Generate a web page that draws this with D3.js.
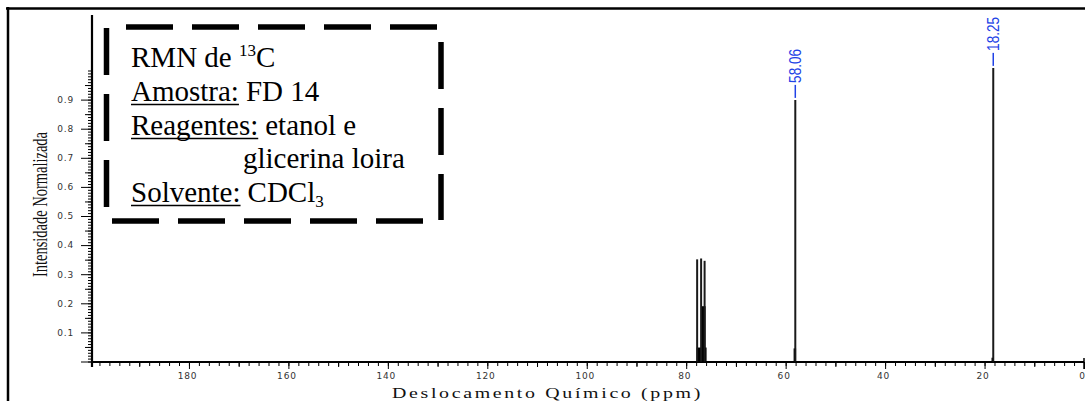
<!DOCTYPE html>
<html>
<head>
<meta charset="utf-8">
<script src="https://cdn.jsdelivr.net/npm/d3@7"></script>
<style>
  html, body { margin: 0; background: #fff; }
  svg { display: block; }
</style>
</head>
<body>
<svg id="chart" width="1085" height="401"></svg>
<script>
/* Espectro RMN 13C (FD 14) — sticks desenhados com escalas d3 */

// ----- dados -----
var peakPpm    = [77.8, 77.0, 76.3, 58.06, 18.25];
var peakHeight = [0.351, 0.354, 0.346, 0.899, 1.009];

// alargamento na base dos picos (regiões preenchidas)
var baseFrom   = [77.9, 76.9, 58.4, 18.6];
var baseTo     = [75.9, 76.1, 57.9, 18.2];
var baseHeight = [0.048, 0.19, 0.045, 0.013];

var peakLabels = ['58.06', '18.25'];
var labelPpm   = [58.06, 18.25];

var xTickLabels = [180, 160, 140, 120, 100, 80, 60, 40, 20, 0];
var yTickLabels = [0.1, 0.2, 0.3, 0.4, 0.5, 0.6, 0.7, 0.8, 0.9];

(function () {
  var svg = d3.select('#chart');
  var x = d3.scaleLinear().domain([200, 0]).range([89.5, 1084]);
  var y = d3.scaleLinear().domain([0, 1]).range([361.5, 70.5]);
  var AX_Y = 362, AX_X = 92;

  // moldura externa
  svg.append('line').attr('x1', 6).attr('x2', 1085).attr('y1', 8.5).attr('y2', 8.5)
    .attr('stroke', '#000').attr('stroke-width', 2.5);
  svg.append('line').attr('x1', 8).attr('x2', 8).attr('y1', 7).attr('y2', 401)
    .attr('stroke', '#000').attr('stroke-width', 2.5);

  // ----- eixo x: ticks menores / médios / maiores -----
  function xAxis(vals, size, labels) {
    var g = svg.append('g').attr('transform', 'translate(0,' + AX_Y + ')')
      .call(d3.axisBottom(x).tickValues(vals).tickSize(size).tickPadding(4)
        .tickFormat(labels ? function (d) { return d; } : ''));
    g.select('.domain').remove();
    g.selectAll('line').attr('stroke', '#000');
    g.selectAll('text').attr('font-family', '"DejaVu Sans", sans-serif').attr('font-size', 9)
      .attr('fill', '#333').attr('letter-spacing', 0.8).attr('dx', -2);
    return g;
  }
  xAxis(d3.range(2, 200, 2), 4, false);
  xAxis(d3.range(10, 200, 20), 5, false);
  xAxis(xTickLabels, 7, true);

  // ----- eixo y -----
  function yAxis(vals, size, fmt) {
    var g = svg.append('g').attr('transform', 'translate(' + AX_X + ',0)')
      .call(d3.axisLeft(y).tickValues(vals).tickSize(size).tickPadding(7)
        .tickFormat(fmt || ''));
    g.select('.domain').remove();
    g.selectAll('line').attr('stroke', '#000');
    g.selectAll('text').attr('font-family', '"DejaVu Sans", sans-serif').attr('font-size', 9)
      .attr('fill', '#333').attr('letter-spacing', 0.8);
    return g;
  }
  yAxis(d3.range(0, 100.5, 1).map(function (v) { return v / 100; }), 4);
  yAxis(d3.range(5, 100, 10).map(function (v) { return v / 100; }), 7);
  yAxis([0], 11);
  yAxis(yTickLabels, 11, function (d) { return d.toFixed(1); });

  // linhas dos eixos
  svg.append('line').attr('x1', AX_X).attr('x2', AX_X).attr('y1', 15).attr('y2', 367)
    .attr('stroke', '#000').attr('stroke-width', 2.2);
  svg.append('line').attr('x1', AX_X).attr('x2', x(0)).attr('y1', AX_Y).attr('y2', AX_Y)
    .attr('stroke', '#000').attr('stroke-width', 2.2);
  svg.append('line').attr('x1', x(0)).attr('x2', x(0)).attr('y1', AX_Y - 4).attr('y2', AX_Y + 7)
    .attr('stroke', '#000').attr('stroke-width', 1.5);

  // ----- espectro -----
  var spec = svg.append('g');
  spec.selectAll('rect.base').data(baseFrom).enter().append('rect').attr('class', 'base')
    .attr('x', function (d) { return x(d); })
    .attr('width', function (d, i) { return x(baseTo[i]) - x(d); })
    .attr('y', function (d, i) { return y(baseHeight[i]); })
    .attr('height', function (d, i) { return y(0) - y(baseHeight[i]); })
    .attr('fill', '#000');
  spec.selectAll('line.peak').data(peakPpm).enter().append('line').attr('class', 'peak')
    .attr('x1', function (d) { return x(d); }).attr('x2', function (d) { return x(d); })
    .attr('y1', y(0)).attr('y2', function (d, i) { return y(peakHeight[i]); })
    .attr('stroke', '#1a1a1a').attr('stroke-width', 2);

  // rótulos dos picos (azul, vertical)
  var blue = '#2142e6';
  labelPpm.forEach(function (p, i) {
    var top = y(peakHeight[peakPpm.indexOf(p)]);
    svg.append('line').attr('x1', x(p)).attr('x2', x(p)).attr('y1', top - 2).attr('y2', top - 15)
      .attr('stroke', blue).attr('stroke-width', 1.5);
    svg.append('text')
      .attr('transform', 'translate(' + x(p) + ',' + (top - 17) + ') rotate(-90)')
      .attr('dy', '0.36em')
      .attr('font-family', '"Liberation Sans", Arial, sans-serif').attr('font-size', 17)
      .attr('textLength', 34).attr('lengthAdjust', 'spacingAndGlyphs')
      .attr('fill', blue).text(peakLabels[i]);
  });

  // títulos dos eixos
  svg.append('text').attr('transform', 'translate(47,204.5) rotate(-90)')
    .attr('text-anchor', 'middle').attr('font-family', '"Liberation Serif", serif')
    .attr('font-size', 21).attr('textLength', 145).attr('lengthAdjust', 'spacingAndGlyphs')
    .attr('fill', '#111').text('Intensidade Normalizada');
  svg.append('text').attr('x', 392).attr('y', 398)
    .attr('font-family', '"Liberation Serif", serif').attr('font-size', 15)
    .attr('letter-spacing', 2)
    .attr('textLength', 311).attr('lengthAdjust', 'spacingAndGlyphs')
    .attr('fill', '#111').text('Deslocamento Químico (ppm)');

  // ----- caixa tracejada -----
  var dash = '47 19';
  var box = svg.append('g').attr('stroke', '#000').attr('stroke-width', 5.5).attr('stroke-dasharray', dash);
  box.append('line').attr('x1', 126).attr('x2', 437).attr('y1', 27).attr('y2', 27);
  box.append('line').attr('x1', 112).attr('x2', 423).attr('y1', 221).attr('y2', 221);
  box.append('line').attr('x1', 106.5).attr('x2', 106.5).attr('y1', 28).attr('y2', 207);
  box.append('line').attr('x1', 441).attr('x2', 441).attr('y1', 42).attr('y2', 220);

  var FS = 29, TX = 131;
  function txt(xp, yp) {
    return svg.append('text').attr('x', xp).attr('y', yp)
      .attr('font-family', '"Liberation Serif", "Times New Roman", serif')
      .attr('font-size', FS).attr('fill', '#000');
  }
  var t1 = txt(TX, 67);
  t1.append('tspan').text('RMN de ');
  t1.append('tspan').attr('font-size', 17).attr('dy', -11).text('13');
  t1.append('tspan').attr('dy', 11).text('C');

  function labeled(yp, label, value, sub) {
    var lab = txt(TX, yp).text(label);
    var w = lab.node().getComputedTextLength();
    svg.append('line').attr('x1', TX).attr('x2', TX + w).attr('y1', yp + 3.5).attr('y2', yp + 3.5)
      .attr('stroke', '#000').attr('stroke-width', 1.6);
    var v = txt(TX + w + 7, yp);
    v.append('tspan').text(value);
    if (sub) v.append('tspan').attr('font-size', 17).attr('dy', 5).text(sub);
  }
  labeled(101, 'Amostra:', 'FD 14');
  labeled(135, 'Reagentes:', 'etanol e');
  txt(243, 168).text('glicerina loira');
  labeled(202, 'Solvente:', 'CDCl', '3');
})();
</script>
</body>
</html>
